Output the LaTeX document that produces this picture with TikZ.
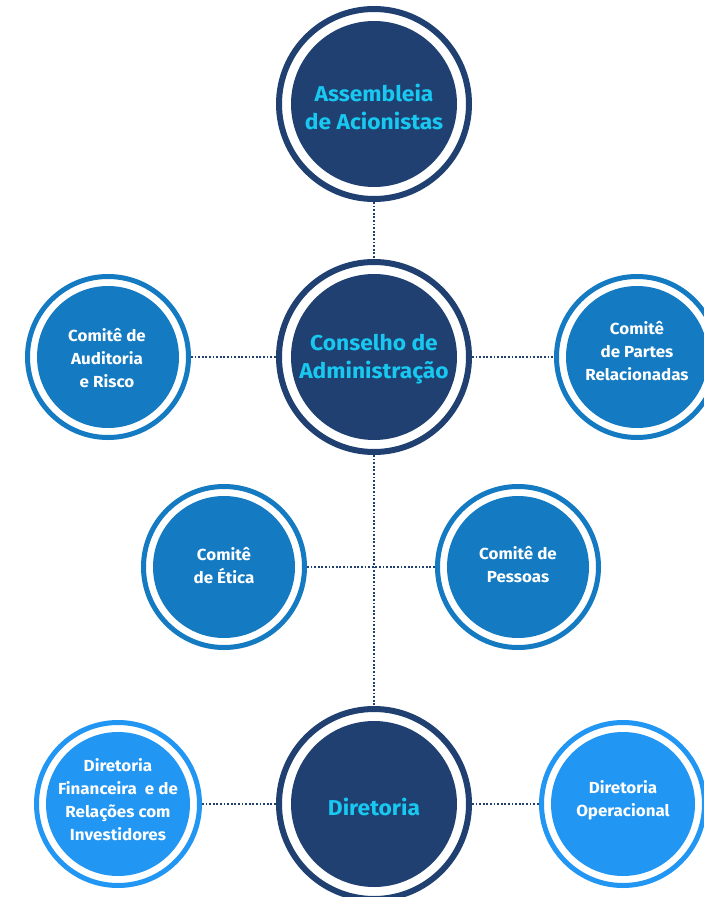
\documentclass[tikz,border=0pt]{standalone}
\usepackage{fontspec}
\setmainfont{Fira Sans}[BoldFeatures={FakeStretch=1.06}]
\definecolor{navy}{RGB}{31,64,112}
\definecolor{midblue}{RGB}{20,122,193}
\definecolor{lightblue}{RGB}{34,150,243}
\definecolor{cyantxt}{RGB}{24,200,240}
\tikzset{
  big/.style={circle, draw=navy, line width=6pt, fill=white, minimum size=190pt, inner sep=0pt, outer sep=3pt},
  mid/.style={circle, draw=midblue, line width=5pt, fill=white, minimum size=161pt, inner sep=0pt, outer sep=2.5pt},
  light/.style={circle, draw=lightblue, line width=5pt, fill=white, minimum size=163pt, inner sep=0pt, outer sep=2.5pt},
  bigtxt/.style={text=cyantxt, font=\bfseries\fontsize{21.5}{27.5}\selectfont, align=center},
  smalltxt/.style={text=white, font=\bfseries\fontsize{16}{23}\selectfont, align=center},
  link/.style={draw=navy, line width=1.7pt, dash pattern=on 1.7pt off 1.9pt},
}
\begin{document}
\begin{tikzpicture}[x=1pt,y=-1pt]
\useasboundingbox (0,0) rectangle (704,897);
% nodes
\node[big] (ass) at (374,104) {};
\node[big] (con) at (374,357) {};
\node[big] (dir) at (374,804) {};
\node[mid] (aud) at (108,357) {};
\node[mid] (par) at (637,357) {};
\node[mid] (eti) at (224,567) {};
\node[mid] (pes) at (518,567) {};
\node[light] (fin) at (118,804) {};
\node[light] (ope) at (623,804) {};
% connectors
\draw[link] (ass.south) -- (con.north);
\draw[link] (con.south) -- (dir.north);
\draw[link] (aud.east) -- (con.west);
\draw[link] (con.east) -- (par.west);
\draw[link] (eti.east) -- (pes.west);
\draw[link] (fin.east) -- (dir.west);
\draw[link] (dir.east) -- (ope.west);
% inner discs
\foreach \n in {ass,con,dir} \fill[navy] (\n.center) circle (83pt);
\foreach \n in {aud,par,eti,pes} \fill[midblue] (\n.center) circle (71pt);
\foreach \n in {fin,ope} \fill[lightblue] (\n.center) circle (72pt);
% texts
\node[bigtxt] (tass) at ([yshift=-3pt]ass.center) {Assembleia\\de Acionistas};
\node[bigtxt] (tcon) at ([yshift=-2pt]con.center) {Conselho de\\Administração};
\node[bigtxt] (tdir) at ([yshift=-3pt]dir.center) {Diretoria};
\node[smalltxt] (taud) at ([xshift=-1pt,yshift=-1pt]aud.center) {Comitê de\\Auditoria\\e Risco};
\node[smalltxt] (tpar) at ([yshift=6pt]par.center) {Comitê\\de Partes\\Relacionadas};
\node[smalltxt] (teti) at ([yshift=1pt]eti.center) {Comitê\\de Ética};
\node[smalltxt] (tpes) at ([yshift=2pt]pes.center) {Comitê de\\Pessoas};
\node[smalltxt] (tfin) at ([yshift=4pt]fin.center) {Diretoria\\Financeira\ \ e de\\Relações com\\Investidores};
\node[smalltxt] (tope) at ([yshift=4pt]ope.center) {Diretoria\\Operacional};
\end{tikzpicture}
\end{document}
